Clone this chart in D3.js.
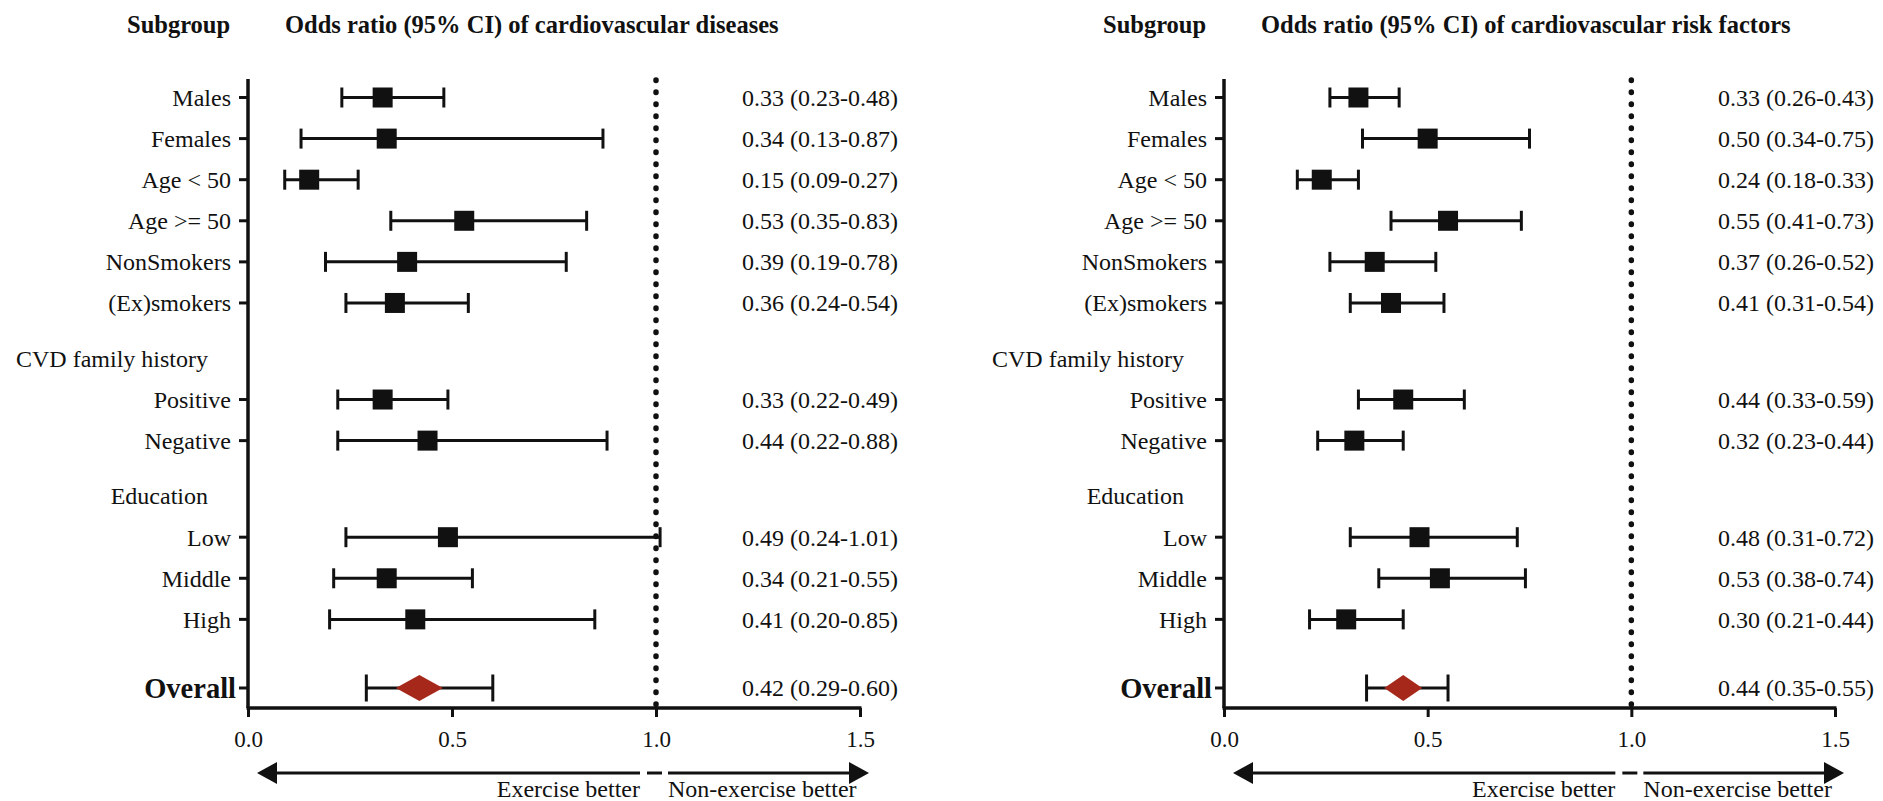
<!DOCTYPE html>
<html>
<head>
<meta charset="utf-8">
<script src="https://cdn.jsdelivr.net/npm/d3@7"></script>
<style>
  html, body { margin: 0; padding: 0; background: #fff; }
  svg { display: block; }
  text { font-family: "Liberation Serif", "Times New Roman", Times, serif; fill: #111; }
</style>
</head>
<body>
<svg id="chart" width="1883" height="801" font-family="'Liberation Serif', 'Times New Roman', serif"></svg>
<script>
// Subgroup rows, in display order; kind: row | header | overall
const rowLabels = ["Males", "Females", "Age < 50", "Age >= 50", "NonSmokers", "(Ex)smokers",
  "CVD family history", "Positive", "Negative",
  "Education", "Low", "Middle", "High", "Overall"];
const rowKinds = ["row", "row", "row", "row", "row", "row",
  "header", "row", "row",
  "header", "row", "row", "row", "overall"];

// Odds ratios (95% CI) of cardiovascular diseases
const cvdOR   = [0.33, 0.34, 0.15, 0.53, 0.39, 0.36, null, 0.33, 0.44, null, 0.49, 0.34, 0.41, 0.42];
const cvdLow  = [0.23, 0.13, 0.09, 0.35, 0.19, 0.24, null, 0.22, 0.22, null, 0.24, 0.21, 0.20, 0.29];
const cvdHigh = [0.48, 0.87, 0.27, 0.83, 0.78, 0.54, null, 0.49, 0.88, null, 1.01, 0.55, 0.85, 0.60];

// Odds ratios (95% CI) of cardiovascular risk factors
const riskOR   = [0.33, 0.50, 0.24, 0.55, 0.37, 0.41, null, 0.44, 0.32, null, 0.48, 0.53, 0.30, 0.44];
const riskLow  = [0.26, 0.34, 0.18, 0.41, 0.26, 0.31, null, 0.33, 0.23, null, 0.31, 0.38, 0.21, 0.35];
const riskHigh = [0.43, 0.75, 0.33, 0.73, 0.52, 0.54, null, 0.59, 0.44, null, 0.72, 0.74, 0.44, 0.55];

const panelTitles = ["Odds ratio (95% CI) of cardiovascular diseases",
                     "Odds ratio (95% CI) of cardiovascular risk factors"];
const columnTitle = "Subgroup";
const xTicks = [0, 0.5, 1.0, 1.5];
const refValue = 1.0;
const favourLabels = ["Exercise better", "Non-exercise better"];

const svg = d3.select("#chart");
const ink = "#111";
const accent = "#a5281b";
const serif = "'Liberation Serif', 'Times New Roman', serif";
const fmt2 = d3.format(".2f");
const fmt1 = d3.format(".1f");
const labelSize = 24;

// Vertical slots: headers and the overall row get extra space above them
const slots = [];
let s = 0;
rowKinds.forEach((k, i) => {
  if (i > 0) s += 1 + (k === "header" ? 0.35 : 0) + (k === "overall" ? 0.67 : 0);
  slots.push(s);
});
const yTop = 79, yAxis = 708;
const y = d3.scaleLinear().domain([0, slots[slots.length - 1]]).range([97.5, 688]);

function drawPanel(x0, x1, title, or, lo, hi, diamondW) {
  const x = d3.scaleLinear().domain([0, 1.5]).range([x0, x1]);
  const g = svg.append("g").attr("font-family", serif);

  // column headings
  g.append("text").attr("x", x0 - 121).attr("y", 33)
    .attr("font-size", 24.5).attr("font-weight", "bold").text(columnTitle);
  g.append("text").attr("x", x0 + 37).attr("y", 33)
    .attr("font-size", 24.5).attr("font-weight", "bold").text(title);

  // reference line at OR = 1
  g.append("line")
    .attr("x1", x(refValue)).attr("x2", x(refValue))
    .attr("y1", yTop + 1).attr("y2", yAxis - 3)
    .attr("stroke", ink).attr("stroke-width", 5.5)
    .attr("stroke-linecap", "round").attr("stroke-dasharray", "0.6 11.4");

  // x axis
  const xAxis = d3.axisBottom(x).tickValues(xTicks).tickFormat(fmt1)
    .tickSize(9).tickSizeOuter(0).tickPadding(14);
  const ax = g.append("g").attr("transform", `translate(0,${yAxis})`).call(xAxis);
  ax.attr("font-family", serif);
  ax.select(".domain").attr("stroke", ink).attr("stroke-width", 3.5)
    .attr("d", `M${x0 - 1.5},0H${x1 + 1.5}`);
  ax.selectAll(".tick line").attr("stroke", ink).attr("stroke-width", 3);
  ax.selectAll(".tick text").attr("font-size", 23).attr("fill", ink);

  // y axis line and ticks
  g.append("line").attr("x1", x0).attr("x2", x0).attr("y1", yTop).attr("y2", yAxis)
    .attr("stroke", ink).attr("stroke-width", 3.5);

  const rows = rowLabels.map((label, i) => ({
    label, kind: rowKinds[i], slot: slots[i], or: or[i], lo: lo[i], hi: hi[i]
  }));

  rows.forEach(d => {
    const cy = y(d.slot);
    if (d.kind === "header") {
      g.append("text").attr("x", x0 - 40).attr("y", cy).attr("dy", "0.35em")
        .attr("text-anchor", "end").attr("font-size", labelSize).text(d.label);
      return;
    }
    const overall = d.kind === "overall";
    g.append("line").attr("x1", x0 - 9).attr("x2", x0).attr("y1", cy).attr("y2", cy)
      .attr("stroke", ink).attr("stroke-width", 3);
    g.append("text")
      .attr("x", overall ? x0 - 12 : x0 - 17).attr("y", cy).attr("dy", "0.35em")
      .attr("text-anchor", "end")
      .attr("font-size", overall ? 28.5 : labelSize)
      .attr("font-weight", overall ? "bold" : "normal")
      .text(d.label);

    // confidence interval with caps
    const capH = overall ? 13.5 : 10;
    g.append("line").attr("x1", x(d.lo)).attr("x2", x(d.hi)).attr("y1", cy).attr("y2", cy)
      .attr("stroke", ink).attr("stroke-width", 3);
    [d.lo, d.hi].forEach(v => {
      g.append("line").attr("x1", x(v)).attr("x2", x(v))
        .attr("y1", cy - capH).attr("y2", cy + capH)
        .attr("stroke", ink).attr("stroke-width", 3);
    });

    // point estimate
    if (overall) {
      const hw = diamondW / 2, hh = 13;
      g.append("path")
        .attr("d", `M${x(d.or) - hw},${cy}L${x(d.or)},${cy - hh}L${x(d.or) + hw},${cy}L${x(d.or)},${cy + hh}Z`)
        .attr("fill", accent);
    } else {
      g.append("rect").attr("x", x(d.or) - 10).attr("y", cy - 10)
        .attr("width", 20).attr("height", 20).attr("fill", ink);
    }

    // value label
    g.append("text").attr("x", x0 + 494).attr("y", cy).attr("dy", "0.35em")
      .attr("font-size", labelSize)
      .text(`${fmt2(d.or)} (${fmt2(d.lo)}-${fmt2(d.hi)})`);
  });

  // direction arrows under the axis
  const ay = 773;
  const leftTip = x(0) + 9, leftEnd = x(refValue) - 16;
  const rightStart = x(refValue) + 12, rightTip = x(1.5) + 9;
  const head = 20, hh = 11;
  g.append("line").attr("x1", leftTip + head - 2).attr("x2", leftEnd).attr("y1", ay).attr("y2", ay)
    .attr("stroke", ink).attr("stroke-width", 3);
  g.append("path").attr("d", `M${leftTip},${ay}L${leftTip + head},${ay - hh}L${leftTip + head},${ay + hh}Z`)
    .attr("fill", ink);
  g.append("line").attr("x1", x(refValue) - 9).attr("x2", x(refValue) + 6).attr("y1", ay).attr("y2", ay)
    .attr("stroke", ink).attr("stroke-width", 3);
  g.append("line").attr("x1", rightStart).attr("x2", rightTip - head + 2).attr("y1", ay).attr("y2", ay)
    .attr("stroke", ink).attr("stroke-width", 3);
  g.append("path").attr("d", `M${rightTip},${ay}L${rightTip - head},${ay - hh}L${rightTip - head},${ay + hh}Z`)
    .attr("fill", ink);

  g.append("text").attr("x", leftEnd).attr("y", 797).attr("text-anchor", "end")
    .attr("font-size", labelSize).text(favourLabels[0]);
  g.append("text").attr("x", rightStart).attr("y", 797)
    .attr("font-size", labelSize).text(favourLabels[1]);
}

drawPanel(248, 860, panelTitles[0], cvdOR, cvdLow, cvdHigh, 47);
drawPanel(1224, 1835, panelTitles[1], riskOR, riskLow, riskHigh, 38);
</script>
</body>
</html>
